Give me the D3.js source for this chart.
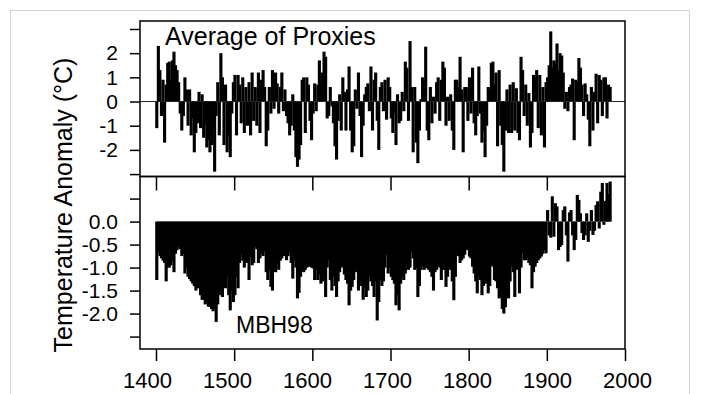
<!DOCTYPE html>
<html>
<head>
<meta charset="utf-8">
<script src="https://cdn.jsdelivr.net/npm/d3@7"></script>
<style>
  html, body { margin: 0; padding: 0; background: #fff; }
  svg { display: block; }
  text { font-family: "Liberation Sans", Arial, sans-serif; fill: #000; }
</style>
</head>
<body>
<svg id="chart" width="701" height="394"></svg>
<script>
// ---- data (2-year steps, 1400-1980) ----
const years = d3.range(1400, 1981, 2);

const proxyAvg = [
  -1.1, 2.3, 1.3, -0.6, 0.9,
  -1.7, 0.7, 1.6, 1.65, 0.9,
  1.7, 2.06, 1.5, 1.3, 0.8,
  -0.5, -1.2, -0.6, 1.0, 0.5,
  -1.0, 0.5, -1.4, -0.7, -2.1,
  -1.3, -0.9, 0.4, -1.1, 0.3,
  -1.5, -0.9, -1.9, -1.6, -2.1,
  -1.8, -1.0, -2.9, -0.6, 0.8,
  -1.4, 2.0, 1.0, -1.8, 0.7,
  -2.1, -1.4, -2.3, -0.5, 0.8,
  1.1, -1.4, 1.1, 0.7, -0.9,
  1.0, -1.3, 0.6, -1.0, 0.8,
  -1.4, 1.2, -0.8, 0.6, -1.0,
  1.2, -1.3, 0.9, 1.3, 0.6,
  -1.85, -1.2, 0.6, -0.5, 1.3,
  -0.3, 1.2, 0.75, -0.5, 0.6,
  1.2, -0.4, 0.5, -0.6, -0.9,
  -1.4, -1.0, 0.3, -1.2, -2.3,
  -2.7, -2.4, -1.8, 0.9, 1.0,
  -1.3, 1.0, 0.7, -0.8, -1.6,
  -0.5, 0.75, -0.4, 0.7, 1.7,
  0.8, 1.2, 2.06, 1.85, -0.7,
  -0.6, 0.6, -0.2, -0.9, -1.85,
  -2.4, -0.8, 0.3, -1.2, 1.0,
  0.4, -1.2, 0.5, 1.45, -1.2,
  -2.1, -1.85, 0.5, -0.3, 1.2,
  -0.6, -2.3, -1.0, 0.3, 0.6,
  0.75, -0.4, 1.45, -1.2, 0.9,
  1.2, -0.8, -2.0, 0.6, 0.8,
  -0.4, 0.9, -0.75, 1.0, 0.6,
  -0.7, -1.3, -0.5, -1.8, 0.3,
  -0.9, -0.8, 0.4, -0.4, 1.65,
  1.4, -0.8, 2.5, 0.6, -2.1,
  0.6, -1.7, -2.55, -1.2, 0.1,
  1.0, 0.9, 2.27, -1.2, -1.6,
  0.6, -0.9, 0.2, -0.5, 0.8,
  1.0, -0.8, 0.9, 1.65, 1.4,
  -1.0, 0.2, -0.8, 0.3, -1.2,
  -2.0, 0.9, 0.9, 0.6, 1.85,
  0.5, -2.1, 0.6, 0.6, -0.8,
  1.0, -0.5, 1.4, -0.9, -1.4,
  -0.6, 1.45, -0.5, -1.7, -1.2,
  -2.3, -1.0, 0.6, 0.5, 1.6,
  1.65, 0.7, 1.2, -1.85, 1.3,
  -1.0, -1.8, -2.9, -1.2, 0.5,
  -1.3, 0.7, -1.3, 0.8, -1.2,
  0.55, -1.3, -1.6, 1.85, 1.3,
  -0.6, 0.7, -1.0, 0.35, -1.9,
  -1.3, 1.1, 1.0, 1.3, -1.1,
  1.1, -1.4, 0.6, -1.9, 0.8,
  1.0, 1.5, 2.9, 1.4, 1.7,
  1.6, 2.4, 1.3, 2.0, 1.9,
  1.2, -0.3, 0.4, -0.4, 0.6,
  0.7, 0.95, -1.6, 0.9, 0.8,
  1.8, 1.4, 0.7, -0.6, 0.75,
  0.3, -0.75, -1.85, 0.6, -1.2,
  0.4, 1.15, -0.9, 1.1, 0.9,
  -0.6, 1.0, 1.0, -0.7, 0.7,
  0.6
];

const mbh98 = [
  -1.27, -0.65, -0.75, -0.8, -0.85,
  -0.9, -1.3, -1.0, -1.0, -0.95,
  -0.85, -1.1, -0.7, -0.62, -0.55,
  -0.6, -0.75, -0.7, -1.13, -1.0,
  -1.2, -1.25, -1.3, -1.35, -1.4,
  -1.5, -1.45, -1.2, -1.6, -1.7,
  -1.7, -1.8, -1.75, -1.85, -1.85,
  -1.9, -1.95, -1.9, -2.18, -1.8,
  -1.6, -1.5, -1.64, -1.02, -1.45,
  -1.2, -1.6, -1.93, -1.5, -1.75,
  -1.6, -1.2, -1.45, -0.9, -0.7,
  -0.85, -1.0, -0.85, -0.9, -1.27,
  -0.77, -0.95, -0.9, -0.55, -0.6,
  -0.9, -0.8, -0.7, -0.75, -0.65,
  -1.1, -1.27, -1.05, -1.42, -1.5,
  -1.0, -1.1, -0.9, -1.05, -0.85,
  -0.8, -0.75, -0.7, -0.84, -0.75,
  -0.65, -0.9, -1.24, -0.84, -1.0,
  -1.67, -1.55, -1.2, -1.05, -1.1,
  -1.05, -1.0, -0.98, -0.98, -1.0,
  -1.02, -1.27, -1.05, -1.27, -1.15,
  -1.35, -1.3, -1.2, -1.64, -1.0,
  -0.84, -1.27, -1.5, -1.2, -1.4,
  -1.64, -1.3, -1.1, -1.0, -0.98,
  -1.15, -1.27, -1.35, -1.82, -1.5,
  -1.42, -1.27, -1.1, -1.05, -1.5,
  -1.3, -1.4, -1.7, -1.45, -1.64,
  -1.5, -1.2, -1.3, -1.4, -1.64,
  -1.3, -2.15, -1.75, -1.27, -1.4,
  -1.3, -1.0, -0.73, -1.13, -1.0,
  -1.2, -1.27, -1.35, -1.82, -1.6,
  -1.93, -1.35, -1.2, -1.27, -1.13,
  -0.9, -1.05, -1.0, -0.65, -0.8,
  -1.05, -1.0, -1.64, -1.4, -1.05,
  -0.98, -1.05, -0.98, -1.02, -1.05,
  -1.1, -1.2, -1.5, -1.1, -1.05,
  -0.98, -1.0, -1.27, -1.05, -1.05,
  -1.42, -1.2, -0.98, -1.05, -1.3,
  -1.71, -1.2, -0.69, -0.75, -0.9,
  -0.84, -0.8, -0.72, -0.62, -0.6,
  -0.76, -0.8, -0.98, -1.13, -1.3,
  -1.56, -1.2, -1.27, -1.6, -1.4,
  -1.27, -1.35, -1.56, -1.4, -0.95,
  -0.98, -1.27, -1.3, -1.45, -1.67,
  -1.64, -1.9, -2.0, -1.86, -1.64,
  -1.67, -1.3, -0.98, -1.1, -1.64,
  -1.05, -0.98, -1.56, -1.0, -0.69,
  -0.84, -0.84, -0.8, -0.9, -0.95,
  -1.45, -1.1, -0.98, -0.9, -0.84,
  -0.8, -0.76, -0.7, -0.62, -0.69,
  0.25, -0.3, -0.35, 0.55, -0.33,
  0.4, 0.33, -0.62, -0.55, -0.51,
  0.25, 0.33, -0.3, -0.87, 0.2,
  0.25, -0.3, -0.62, -0.4, 0.58,
  0.47, 0.18, -0.25, -0.4, -0.3,
  0.18, -0.44, -0.2, 0.25, -0.29,
  -0.2, 0.36, 0.44, -0.15, 0.65,
  0.84, -0.07, 0.45, 0.84, 0.6,
  0.87
];

const xTicks = [1400, 1500, 1600, 1700, 1800, 1900, 2000];
const topTicks = [3, 2, 1, 0, -1, -2, -3];
const topTickLabels = ["", "2", "1", "0", "-1", "-2", ""];
const bottomTicks = [0.5, 0, -0.5, -1.0, -1.5, -2.0, -2.5];
const bottomTickLabels = ["", "0.0", "-0.5", "-1.0", "-1.5", "-2.0", ""];

const topTitle = "Average of Proxies";
const bottomTitle = "MBH98";
const yTitle = "Temperature Anomaly (\u00B0C)";

// ---- layout ----
const L = 140, R = 625, T = 21, MID = 176.5, B = 349;
const svg = d3.select("#chart");

// faint page border
svg.append("rect")
  .attr("x", 10.5).attr("y", 10.5).attr("width", 679).attr("height", 400)
  .attr("fill", "none").attr("stroke", "#d4d4d4").attr("stroke-width", 1);

const x = d3.scaleLinear().domain([1400, 2000]).range([156, R]);
const xLabel = d3.scaleLinear().domain([1400, 2000]).range([147, 627]);
const yTop = d3.scaleLinear().domain([-3.1, 3.33]).range([MID, T]);
const yBot = d3.scaleLinear().domain([-2.77, 0.98]).range([B, MID]);

const step = x(1402) - x(1400);
const bw = step * 2.0;

// top panel bars
svg.append("g").selectAll("rect").data(years).join("rect")
  .attr("x", (d) => x(d) + step / 2 - bw / 2)
  .attr("width", bw)
  .attr("y", (d, i) => Math.min(yTop(0), yTop(proxyAvg[i])))
  .attr("height", (d, i) => Math.abs(yTop(proxyAvg[i]) - yTop(0)))
  .attr("fill", "#000");

// zero line top panel
svg.append("line")
  .attr("x1", L).attr("x2", R).attr("y1", yTop(0)).attr("y2", yTop(0))
  .attr("stroke", "#222").attr("stroke-width", 1);

// bottom panel bars
svg.append("g").selectAll("rect").data(years).join("rect")
  .attr("x", (d) => x(d) + step / 2 - bw / 2)
  .attr("width", bw)
  .attr("y", (d, i) => Math.min(yBot(0), yBot(mbh98[i])))
  .attr("height", (d, i) => Math.abs(yBot(mbh98[i]) - yBot(0)))
  .attr("fill", "#000");

// frames
svg.append("rect").attr("x", L).attr("y", T).attr("width", R - L).attr("height", MID - T)
  .attr("fill", "none").attr("stroke", "#000").attr("stroke-width", 1.5);
svg.append("rect").attr("x", L).attr("y", MID).attr("width", R - L).attr("height", B - MID)
  .attr("fill", "none").attr("stroke", "#000").attr("stroke-width", 1.5);

// left axes
const axTop = svg.append("g").attr("transform", `translate(${L},0)`)
  .call(d3.axisLeft(yTop).tickValues(topTicks).tickSize(10).tickPadding(12)
    .tickFormat((d, i) => topTickLabels[i]));
const axBot = svg.append("g").attr("transform", `translate(${L},0)`)
  .call(d3.axisLeft(yBot).tickValues(bottomTicks).tickSize(10).tickPadding(12)
    .tickFormat((d, i) => bottomTickLabels[i]));
// bottom x axis (ticks)
const axX = svg.append("g").attr("transform", `translate(0,${B})`)
  .call(d3.axisBottom(x).tickValues(xTicks).tickSize(12).tickFormat(""));
// bottom x axis labels
const axXL = svg.append("g").attr("transform", `translate(0,${B})`)
  .call(d3.axisBottom(xLabel).tickValues(xTicks).tickSize(12).tickPadding(11)
    .tickFormat(d3.format("d")));
axXL.selectAll(".tick line").remove();
// inner ticks at panel separator
const axMid = svg.append("g").attr("transform", `translate(0,${MID})`)
  .call(d3.axisBottom(x).tickValues(xTicks.slice(0, 6)).tickSize(14).tickFormat(""));

[axTop, axBot, axX, axXL, axMid].forEach(g => {
  g.select(".domain").remove();
  g.selectAll(".tick line").attr("stroke", "#000").attr("stroke-width", 1.5);
  g.selectAll(".tick text").style("font-family", '"Liberation Sans", Arial, sans-serif').attr("fill", "#000");
});
axTop.selectAll(".tick text").style("font-size", "21px");
axBot.selectAll(".tick text").style("font-size", "21px");
axXL.selectAll(".tick text").style("font-size", "22px");

// titles
svg.append("text").attr("x", 165).attr("y", 45).style("font-size", "25px").text(topTitle);
svg.append("text").attr("x", 236).attr("y", 333).style("font-size", "23px").text(bottomTitle);
svg.append("text")
  .attr("transform", "translate(72,205) rotate(-90)")
  .attr("text-anchor", "middle")
  .style("font-size", "25px")
  .text(yTitle);
</script>
</body>
</html>
